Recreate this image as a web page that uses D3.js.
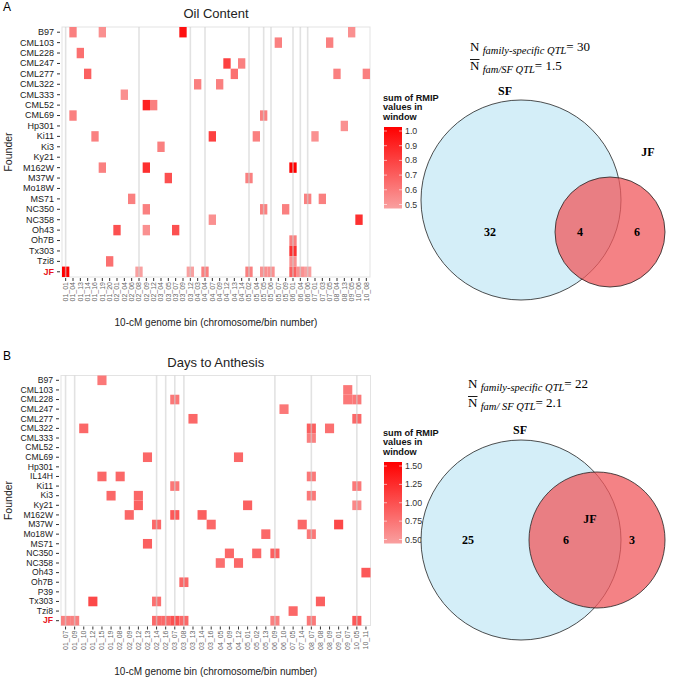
<!DOCTYPE html>
<html>
<head>
<meta charset="utf-8">
<script src="https://cdn.jsdelivr.net/npm/d3@7"></script>
<style>
  body { margin: 0; background: #fff; }
  svg { font-family: "Liberation Sans", Arial, sans-serif; }
</style>
</head>
<body>
<svg id="fig" width="685" height="680"></svg>
<script>
// ---- Panel A : oil content ----
const foundersA = ["B97","CML103","CML228","CML247","CML277","CML322","CML333","CML52","CML69","Hp301",
  "Ki11","Ki3","Ky21","M162W","M37W","Mo18W","MS71","NC350","NC358","Oh43","Oh7B","Tx303","Tzi8","JF"];
const binsA = ["01_01","01_04","01_13","01_14","01_16","01_19","01_20","02_01","02_04","02_06",
  "02_08","02_09","02_12","03_04","03_05","03_07","03_09","03_12","04_03","04_04",
  "04_07","04_09","04_12","04_13","04_14","05_02","05_04","05_05","05_06","05_07",
  "05_09","06_01","06_04","06_06","07_01","07_03","07_05","08_04","08_13","09_05",
  "10_06","10_08"];
// [founder, bin index, sum of RMIP]
const tilesA = [
  ["B97",1,0.6],["B97",5,0.55],["B97",16,0.95],["B97",39,0.55],
  ["CML103",29,0.6],["CML103",36,0.6],
  ["CML228",2,0.65],
  ["CML247",22,0.8],["CML247",24,0.6],
  ["CML277",3,0.7],["CML277",23,0.65],["CML277",37,0.6],["CML277",41,0.6],
  ["CML322",18,0.6],["CML322",21,0.6],
  ["CML333",8,0.55],
  ["CML52",11,0.9],["CML52",12,0.6],
  ["CML69",1,0.6],["CML69",27,0.6],
  ["Hp301",38,0.55],
  ["Ki11",4,0.6],["Ki11",20,0.8],["Ki11",26,0.6],["Ki11",34,0.55],
  ["Ki3",13,0.6],
  ["M162W",5,0.6],["M162W",11,0.85],["M162W",31,1.0],
  ["M37W",14,0.75],["M37W",25,0.6],
  ["MS71",9,0.6],["MS71",33,0.6],["MS71",35,0.6],
  ["NC350",11,0.6],["NC350",27,0.6],["NC350",30,0.6],
  ["NC358",20,0.55],["NC358",40,0.85],
  ["Oh43",7,0.75],["Oh43",11,0.55],["Oh43",15,0.75],
  ["Oh7B",31,0.6],
  ["Tx303",31,0.85],
  ["Tzi8",6,0.65],["Tzi8",31,0.55],
  ["JF",0,1.0],["JF",10,0.5],["JF",17,0.5],["JF",19,0.6],["JF",25,0.6],["JF",27,0.55],
  ["JF",28,0.55],["JF",31,0.7],["JF",32,0.55],["JF",33,0.5]
];
const legendTicksA = [1.0, 0.9, 0.8, 0.7, 0.6, 0.5];

// ---- Panel B : days to anthesis ----
const foundersB = ["B97","CML103","CML228","CML247","CML277","CML322","CML333","CML52","CML69","Hp301",
  "IL14H","Ki11","Ki3","Ky21","M162W","M37W","Mo18W","MS71","NC350","NC358","Oh43","Oh7B","P39",
  "Tx303","Tzi8","JF"];
const binsB = ["01_07","01_09","01_10","01_12","01_15","01_19","02_08","02_09","02_12","02_13",
  "02_14","02_16","03_07","03_08","03_13","03_14","03_16","04_05","04_09","04_12",
  "05_01","05_02","05_13","06_09","06_10","07_05","07_14","08_07","08_08","08_09",
  "09_01","09_07","10_05","10_11"];
const tilesB = [
  ["B97",4,0.75],
  ["CML103",31,0.75],
  ["CML228",12,0.75],["CML228",31,0.75],["CML228",32,0.75],
  ["CML247",24,0.75],
  ["CML277",14,0.85],["CML277",32,0.85],
  ["CML322",2,0.85],["CML322",27,0.9],["CML322",29,0.8],
  ["CML333",27,0.7],
  ["CML69",9,0.85],["CML69",19,0.85],
  ["IL14H",4,0.85],["IL14H",6,0.85],["IL14H",27,0.75],
  ["Ki11",12,0.75],["Ki11",32,0.75],
  ["Ki3",5,0.85],["Ki3",8,0.85],["Ki3",27,0.75],
  ["Ky21",8,0.9],["Ky21",20,0.9],["Ky21",32,0.65],
  ["M162W",7,0.85],["M162W",12,0.95],["M162W",15,0.9],
  ["M37W",10,0.85],["M37W",16,0.85],["M37W",26,0.85],["M37W",30,1.05],
  ["Mo18W",22,0.85],["Mo18W",27,0.75],
  ["MS71",9,0.9],
  ["NC350",18,0.85],["NC350",21,0.85],["NC350",23,0.9],
  ["NC358",17,0.8],["NC358",19,0.85],
  ["Oh43",33,0.95],
  ["Oh7B",13,0.85],
  ["Tx303",3,1.05],["Tx303",10,0.8],["Tx303",28,0.9],
  ["Tzi8",25,0.85],
  ["JF",0,0.7],["JF",1,0.7],["JF",10,0.85],["JF",11,0.85],["JF",12,1.0],["JF",13,0.85],
  ["JF",23,0.7],["JF",27,0.75],["JF",32,0.95]
];
const legendTicksB = [1.50, 1.25, 1.00, 0.75, 0.50];

// ---- Venn counts ----
const vennA = { sf: 32, both: 4, jf: 6, nFam: 30, nMean: "1.5" };
const vennB = { sf: 25, both: 6, jf: 3, nFam: 22, nMean: "2.1" };

const svg = d3.select("#fig");
const LOW = "#f9a0a0", HIGH = "#ff0000";

function heatmap(cfg) {
  const g = svg.append("g");
  const x = d3.scaleBand().domain(cfg.bins.map((d, i) => i)).range([cfg.x0, cfg.x1]);
  const y = d3.scaleBand().domain(cfg.founders).range([cfg.y0, cfg.y1]);
  const color = d3.scaleLinear().domain(cfg.domain).range([LOW, HIGH]).clamp(true);

  // title
  g.append("text").attr("x", (cfg.x0 + cfg.x1) / 2).attr("y", cfg.y0 - 9)
    .attr("text-anchor", "middle").attr("font-size", 13).attr("fill", "#222").text(cfg.title);

  g.append("rect").attr("x", cfg.x0).attr("y", cfg.y0)
    .attr("width", cfg.x1 - cfg.x0).attr("height", cfg.y1 - cfg.y0)
    .attr("fill", "#fff").attr("stroke", "#e3e3e3");

  g.selectAll("rect.tile").data(cfg.tiles).enter().append("rect")
    .attr("class", "tile")
    .attr("x", d => x(d[1])).attr("y", d => y(d[0]))
    .attr("width", x.bandwidth()).attr("height", y.bandwidth())
    .attr("fill", d => color(d[2]));

  // vertical lines at the JF bins
  const jfBins = cfg.tiles.filter(d => d[0] === "JF").map(d => d[1]);
  g.selectAll("line.jf").data(jfBins).enter().append("line")
    .attr("x1", d => x(d) + x.bandwidth() / 2).attr("x2", d => x(d) + x.bandwidth() / 2)
    .attr("y1", cfg.y0).attr("y2", cfg.y1)
    .attr("stroke", "#cfcfcf").attr("stroke-opacity", 0.6).attr("stroke-width", 1.6);

  // y axis
  const ya = g.append("g").attr("transform", `translate(${cfg.x0 - 2},0)`)
    .call(d3.axisLeft(y).tickSize(3).tickPadding(3));
  ya.select(".domain").remove();
  ya.selectAll("line").attr("stroke", "#333");
  ya.selectAll("text").attr("font-size", cfg.yFont).attr("fill", d => d === "JF" ? "#e8141c" : "#1a1a1a")
    .attr("font-weight", d => d === "JF" ? "bold" : "normal");

  // x axis
  const xa = g.append("g").attr("transform", `translate(0,${cfg.y1 + 1})`)
    .call(d3.axisBottom(x).tickSize(3).tickPadding(2).tickFormat(i => cfg.bins[i]));
  xa.select(".domain").remove();
  xa.selectAll("line").attr("stroke", "#333");
  xa.selectAll("text").attr("font-size", 7).attr("fill", "#666")
    .attr("text-anchor", "end").attr("dy", "0.32em")
    .attr("transform", "translate(0,4) rotate(-90)").attr("x", 0).attr("y", 0);

  g.append("text").attr("x", (cfg.x0 + cfg.x1) / 2).attr("y", cfg.y1 + 49)
    .attr("text-anchor", "middle").attr("font-size", 10).attr("fill", "#222")
    .text("10-cM genome bin (chromosome/bin number)");
  g.append("text").attr("transform", `translate(12,${(cfg.y0 + cfg.y1) / 2}) rotate(-90)`)
    .attr("text-anchor", "middle").attr("font-size", 10.5).attr("fill", "#222").text("Founder");

  g.append("text").attr("x", 3).attr("y", cfg.y0 - 16).attr("font-size", 12).text(cfg.letter);

  // legend
  const lg = g.append("g");
  ["sum of RMIP", "values in", "window"].forEach((t, i) => {
    lg.append("text").attr("x", cfg.legX).attr("y", cfg.legY + i * 9.6)
      .attr("font-size", 9.2).attr("font-weight", "bold").attr("fill", "#111").text(t);
  });
  const ly = d3.scaleLinear().domain(cfg.domain).range([cfg.legY + 104, cfg.legY + 30.5]);
  const gid = "grad" + cfg.letter;
  const grad = svg.append("defs").append("linearGradient").attr("id", gid)
    .attr("x1", 0).attr("x2", 0).attr("y1", 1).attr("y2", 0);
  grad.append("stop").attr("offset", 0).attr("stop-color", LOW);
  grad.append("stop").attr("offset", 1).attr("stop-color", HIGH);
  lg.append("rect").attr("x", cfg.legX + 1).attr("y", cfg.legY + 26.5)
    .attr("width", 18).attr("height", 81.5).attr("fill", `url(#${gid})`);
  cfg.legendTicks.forEach(v => {
    lg.append("line").attr("x1", cfg.legX + 1).attr("x2", cfg.legX + 4)
      .attr("y1", ly(v)).attr("y2", ly(v)).attr("stroke", "#fff").attr("stroke-opacity", 0.6);
    lg.append("line").attr("x1", cfg.legX + 16).attr("x2", cfg.legX + 19)
      .attr("y1", ly(v)).attr("y2", ly(v)).attr("stroke", "#fff").attr("stroke-opacity", 0.6);
    lg.append("text").attr("x", cfg.legX + 22).attr("y", ly(v)).attr("dy", "0.35em")
      .attr("font-size", 8.8).attr("fill", "#333").text(cfg.fmt(v));
  });
}

function venn(cfg, v) {
  const g = svg.append("g").attr("font-family", "'Liberation Serif', 'Times New Roman', serif");
  g.append("circle").attr("cx", cfg.sf[0]).attr("cy", cfg.sf[1]).attr("r", cfg.sf[2])
    .attr("fill", "#d4eef8").attr("stroke", "#222").attr("stroke-width", 0.8);
  g.append("circle").attr("cx", cfg.jf[0]).attr("cy", cfg.jf[1]).attr("r", cfg.jf[2])
    .attr("fill", "#f0585c").attr("fill-opacity", 0.75).attr("stroke", "#222").attr("stroke-width", 0.8);
  g.append("text").attr("x", cfg.sfLab[0]).attr("y", cfg.sfLab[1]).attr("text-anchor", "middle")
    .attr("font-size", 12).attr("font-weight", "bold").text("SF");
  g.append("text").attr("x", cfg.jfLab[0]).attr("y", cfg.jfLab[1]).attr("text-anchor", "middle")
    .attr("font-size", 12).attr("font-weight", "bold").text("JF");
  [[v.sf, cfg.nums[0]], [v.both, cfg.nums[1]], [v.jf, cfg.nums[2]]].forEach(([n, p]) => {
    g.append("text").attr("x", p).attr("y", cfg.numY).attr("dy", "0.35em").attr("text-anchor", "middle")
      .attr("font-size", 12).attr("font-weight", "bold").text(n);
  });
  const t1 = g.append("text").attr("x", cfg.tx).attr("y", cfg.ty).attr("font-size", 13);
  t1.append("tspan").text("N ");
  t1.append("tspan").attr("font-size", 10.5).attr("font-style", "italic").attr("dy", 3).text("family-specific QTL");
  t1.append("tspan").attr("dy", -3).text("= " + v.nFam);
  const t2 = g.append("text").attr("x", cfg.tx).attr("y", cfg.ty + 19).attr("font-size", 13);
  t2.append("tspan").text("N ");
  t2.append("tspan").attr("font-size", 10.5).attr("font-style", "italic").attr("dy", 3).text(cfg.famLab);
  t2.append("tspan").attr("dy", -3).text("= " + v.nMean);
  g.append("line").attr("x1", cfg.tx).attr("x2", cfg.tx + 9.5)
    .attr("y1", cfg.ty + 8.5).attr("y2", cfg.ty + 8.5).attr("stroke", "#000").attr("stroke-width", 0.9);
}

heatmap({ letter: "A", title: "Oil Content", founders: foundersA, bins: binsA, tiles: tilesA,
  x0: 62, x1: 370, y0: 27, y1: 277, domain: [0.5, 1.0], legendTicks: legendTicksA,
  fmt: d3.format(".1f"), legX: 383, legY: 100.5, yFont: 9 });
heatmap({ letter: "B", title: "Days to Anthesis", founders: foundersB, bins: binsB, tiles: tilesB,
  x0: 61, x1: 370.5, y0: 375.5, y1: 625.5, domain: [0.5, 1.5], legendTicks: legendTicksB,
  fmt: d3.format(".2f"), legX: 383, legY: 435.5, yFont: 8.6 });

venn({ sf: [521, 200, 100], jf: [610, 232, 55], sfLab: [505, 95], jfLab: [648, 156],
  nums: [490, 580, 637], numY: 232, tx: 470, ty: 51, famLab: "fam/SF QTL" }, vennA);
venn({ sf: [521, 540, 100], jf: [597, 540, 68], sfLab: [520, 434], jfLab: [590, 523],
  nums: [468, 566, 632], numY: 540, tx: 468, ty: 388, famLab: "fam/ SF QTL" }, vennB);
</script>
</body>
</html>
